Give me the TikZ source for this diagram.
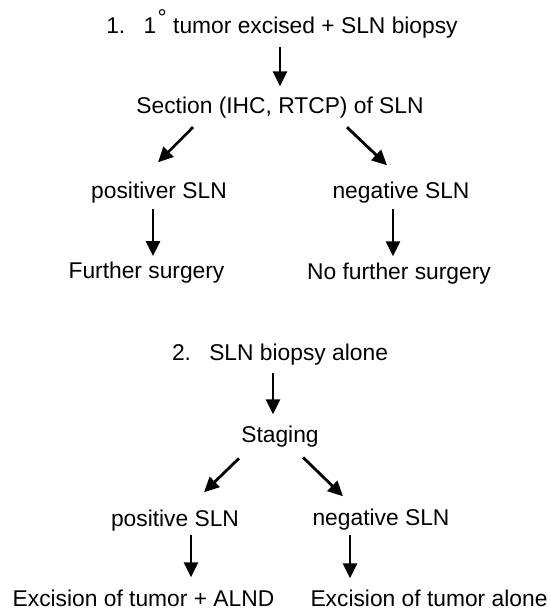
\documentclass[tikz,border=0pt]{standalone}
\usepackage{fontspec}
\setmainfont{Liberation Sans}
\usetikzlibrary{arrows.meta,calc}
\tikzset{
  lbl/.style={inner sep=0pt, anchor=base, font=\fontsize{22.8}{27}\selectfont},
  arr/.style={line width=2.8pt, -{Triangle[length=15pt,width=14pt]}},
}
\begin{document}
\begin{tikzpicture}[x=1pt,y=-1pt]
        \useasboundingbox (0,0) rectangle (550,611);
        % 1. tumor excised first
        \node[lbl] (tumor) at (282,33) {1.\hspace{0.8em}1\kern1.5pt\raisebox{8pt}{°} tumor excised + SLN biopsy};
        \node[lbl] (sec) at (280,113) {Section (IHC, RTCP) of SLN};
        \node[lbl] (posA) at (159,198) {positiver SLN};
        \node[lbl] (negA) at (401,198) {negative SLN};
        \node[lbl] (furA) at (146.5,278) {Further surgery};
        \node[lbl] (noA) at (399,279) {No further surgery};
        \draw[arr] ($(tumor.south)+(-2,9.4)$) -- ($(sec.north)+(0,-10)$);
        \draw[arr] ($(sec.south)+(-87,9.3)$) -- ($(posA.north)+(-1,-19)$);
        \draw[arr] ($(sec.south)+(67,9.3)$) -- ($(negA.north)+(-14,-16)$);
        \draw[arr] ($(posA.south)+(-6,6.4)$) -- ($(furA.north)+(6.5,-5.2)$);
        \draw[arr] ($(negA.south)+(-8,6.4)$) -- ($(noA.north)+(-6,-6)$);
        % 2. biopsy alone
        \node[lbl] (biop) at (280,360) {2.\hspace{0.8em}SLN biopsy alone};
        \node[lbl] (stg) at (280,442) {Staging};
        \node[lbl] (posB) at (175,526) {positive SLN};
        \node[lbl] (negB) at (381,525) {negative SLN};
        \node[lbl] (exA) at (143.5,606) {Excision of tumor + ALND};
        \node[lbl] (exB) at (429,606) {Excision of tumor alone};
        \draw[arr] ($(biop.south)+(-7,8.4)$) -- ($(stg.north)+(-7,-11)$);
        \draw[arr] ($(stg.south)+(-41,11.4)$) -- ($(posB.north)+(29,-17)$);
        \draw[arr] ($(stg.south)+(23,10.4)$) -- ($(negB.north)+(-38,-12)$);
        \draw[arr] ($(posB.south)+(16,4.4)$) -- ($(exA.north)+(47.5,-12)$);
        \draw[arr] ($(negB.south)+(-31,5.4)$) -- ($(exB.north)+(-79,-11)$);
\end{tikzpicture}
\end{document}
